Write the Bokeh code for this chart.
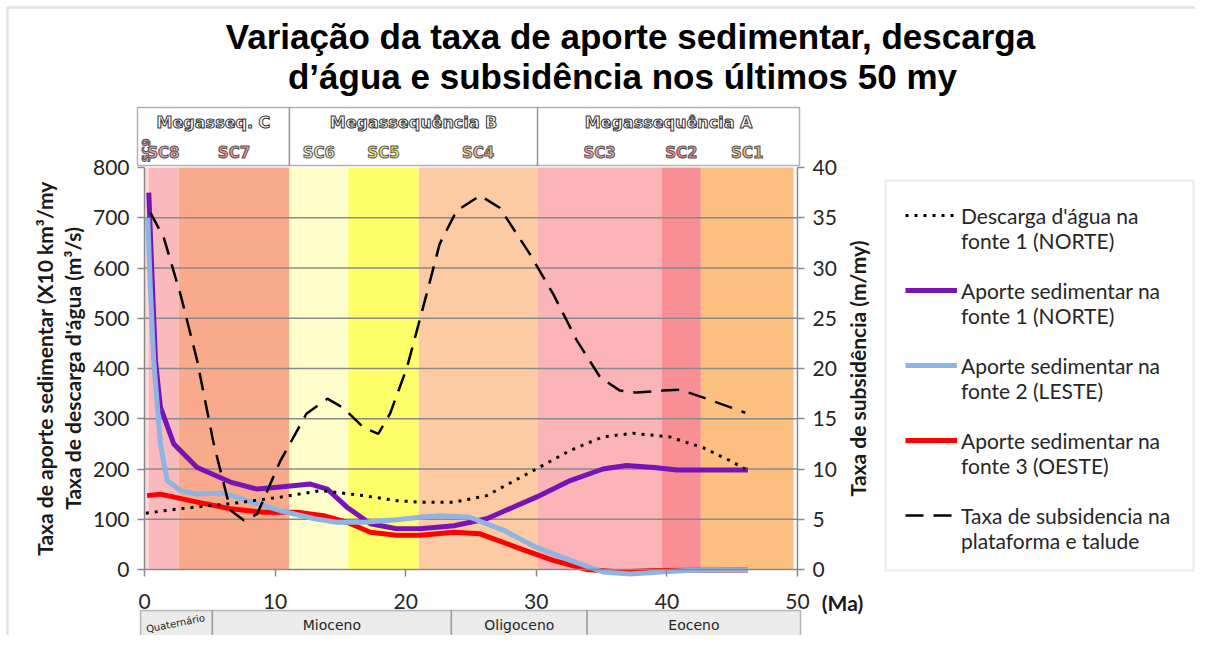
import math
from bokeh.plotting import figure
from bokeh.models import (Range1d, LinearAxis, FixedTicker, Label, BoxAnnotation,
                          Legend, LegendItem, ColumnDataSource)
from bokeh.embed import file_html
from bokeh.resources import INLINE

# ---------------- data ----------------
# sequences (SC) background bands, Ma
sc_names = ["SC9", "SC8", "SC7", "SC6", "SC5", "SC4", "SC3", "SC2", "SC1"]
sc_start = [0.0, 0.3, 2.6, 11.1, 15.6, 21.0, 30.1, 39.6, 42.6]
sc_end = [0.3, 2.6, 11.1, 15.6, 21.0, 30.1, 39.6, 42.6, 49.7]
sc_colors = ["#FCDADA", "#FAB9BC", "#F9AA8D", "#FFFDC9", "#FFFF6A", "#FCCBA3",
             "#FAB3B6", "#F88F94", "#FBC07F"]
sc_text_colors = ["#F2A0A8", "#F4A3AB", "#EA9682", "#F3F0BC", "#F0F05A", "#F2BD90",
                  "#F2A6AE", "#F0848C", "#F2BC7C"]

mega_names = ["Megasseq. C", "Megassequência B", "Megassequência A"]
mega_bounds = [0.0, 11.1, 30.1, 50.0]

epoch_names = ["Quaternário", "Mioceno", "Oligoceno", "Eoceno"]
epoch_bounds = [0.0, 5.2, 23.5, 33.9, 50.0]

# Descarga d'agua na fonte 1 (NORTE), m3/s
age_desc = [0.1, 2.7, 6.6, 10.4, 13.5, 16.8, 19.3, 21.1, 23.7, 26.2, 30.0, 32.6,
            35.1, 37.4, 40.2, 42.8, 44.8, 46.0]
descarga = [112, 121, 131, 144, 157, 147, 137, 134, 134, 147, 200, 237,
            264, 271, 264, 242, 217, 200]

# Aporte sedimentar fonte 1 (NORTE)
age_norte = [0.33, 0.55, 0.84, 1.22, 2.24, 4.03, 6.58, 8.62, 10.4, 12.7, 14.0, 15.5,
             17.3, 19.3, 21.1, 23.7, 26.2, 30.0, 32.6, 35.1, 36.9, 39.0, 40.8, 44.1, 46.2]
norte = [750, 600, 415, 323, 250, 203, 174, 160, 164, 170, 160, 124,
         91, 81, 81, 87, 101, 144, 177, 200, 207, 203, 198, 198, 198]

# Aporte sedimentar fonte 2 (LESTE)
age_leste = [0.25, 0.45, 0.71, 1.22, 1.73, 2.75, 4.03, 6.07, 7.86, 10.4, 13.0, 14.7,
             16.8, 19.3, 21.1, 22.6, 24.9, 27.5, 30.0, 32.6, 35.1, 37.2, 39.5, 41.5, 46.2]
leste = [700, 560, 415, 250, 177, 157, 150, 152, 137, 117, 101, 94,
         94, 99, 104, 107, 104, 78, 44, 18, -5, -9, -5, -2, -1]

# Aporte sedimentar fonte 3 (OESTE)
age_oeste = [0.2, 1.22, 4.03, 6.58, 9.13, 11.7, 13.7, 15.5, 17.3, 19.3, 21.1, 23.7,
             25.7, 28.8, 31.3, 33.9, 36.4, 39.0, 46.2]
oeste = [147, 150, 134, 121, 114, 114, 107, 94, 74, 68, 68, 74,
         71, 41, 18, 0, -5, -2, -1]

# Taxa de subsidencia (m/my), right axis
age_subs = [0.46, 1.48, 2.75, 4.03, 5.3, 6.58, 7.6, 8.62, 10.4, 12.4, 14.0, 15.2,
            16.8, 17.9, 18.8, 20.1, 21.6, 22.6, 23.9, 25.7, 27.2, 29.5, 31.3, 33.1,
            34.9, 36.4, 37.7, 39.7, 41.0, 42.8, 46.0]
subs = [35.5, 33.0, 27.4, 20.8, 12.5, 5.9, 4.9, 5.5, 10.8, 15.5, 17.0, 16.1,
        14.1, 13.5, 15.5, 20.1, 27.4, 32.4, 35.7, 37.2, 36.0, 31.4, 27.4, 22.8,
        19.1, 17.8, 17.6, 17.8, 17.9, 17.1, 15.6]

left_ticks = list(range(0, 801, 100))
right_ticks = list(range(0, 41, 5))
x_ticks = list(range(0, 51, 10))

legend_labels = ["Descarga d'água na\nfonte 1 (NORTE)",
                 "Aporte sedimentar na\nfonte 1 (NORTE)",
                 "Aporte sedimentar na\nfonte 2 (LESTE)",
                 "Aporte sedimentar na\nfonte 3 (OESTE)",
                 "Taxa de subsidencia na\nplataforma e talude"]

# ---------------- layout helpers ----------------
W, H = 1195, 635
FL, FR, FT, FB = 144, 797, 167, 569          # plot-area pixel box
XMAX, YMAX, RMAX = 50.0, 800.0, 40.0
KX = (FR - FL) / XMAX
KY = (FB - FT) / YMAX


def X(px):
    return (px - FL) / KX


def Y(py):
    return (FB - py) / KY


HAS_OUTLINE = "text_outline_color" in Label.properties()

p = figure(width=W, height=H, output_backend="svg", toolbar_location=None,
           x_range=Range1d(X(0), X(W)), y_range=Range1d(Y(H), Y(0)),
           min_border=0, x_axis_type=None, y_axis_type=None)
p.extra_y_ranges = {"subs": Range1d(Y(H) * RMAX / YMAX, Y(0) * RMAX / YMAX)}
p.outline_line_color = None
p.background_fill_color = "white"
p.border_fill_color = "white"
p.xgrid.visible = False
p.ygrid.visible = False

AX = "#8a8a8a"
TXT = "#262626"

# outer chart frame (left/top edges visible)
p.add_layout(BoxAnnotation(left=X(7), right=X(W + 50), top=Y(7), bottom=Y(H + 50),
                           fill_alpha=0, line_color="#9a9a9a", line_width=2.5))

# axes, fixed at the plot-area edges
xa = LinearAxis(ticker=FixedTicker(ticks=x_ticks), fixed_location=0, bounds=(0, XMAX))
ya = LinearAxis(ticker=FixedTicker(ticks=left_ticks), fixed_location=0, bounds=(0, YMAX))
ra = LinearAxis(y_range_name="subs", ticker=FixedTicker(ticks=right_ticks),
                fixed_location=XMAX, bounds=(0, RMAX))
p.add_layout(xa, "below")
p.add_layout(ya, "left")
p.add_layout(ra, "right")
for ax in (xa, ya, ra):
    ax.axis_line_color = AX
    ax.axis_line_width = 1.5
    ax.major_tick_line_color = AX
    ax.major_tick_line_width = 1.5
    ax.major_tick_out = 7
    ax.major_tick_in = 0
    ax.minor_tick_out = 0
    ax.minor_tick_in = 0
    ax.major_label_text_font = "Lato"
    ax.major_label_text_font_size = "21px"
    ax.major_label_text_color = TXT
xa.major_label_standoff = 17
ya.major_label_standoff = 8
ra.major_label_standoff = 8
ya.axis_label = "Taxa de aporte sedimentar (X10 km³/my\nTaxa de descarga d'água (m³/s)"
ya.axis_label_text_font = "Lato"
ya.axis_label_text_font_style = "bold"
ya.axis_label_text_font_size = "21px"
ya.axis_label_text_color = "#1a1a1a"
ya.axis_label_text_line_height = 1.1
ya.axis_label_standoff = 5

# background bands
bands = ColumnDataSource(dict(left=sc_start, right=sc_end, color=sc_colors))
p.quad(left="left", right="right", bottom=0, top=YMAX, fill_color="color",
       line_color=None, source=bands, level="image")

# horizontal gridlines at the left-axis ticks
grid_y = [t for t in left_ticks if 0 < t < YMAX]
p.segment(x0=0, y0=grid_y, x1=XMAX, y1=grid_y, line_color=AX, line_width=1.5,
          level="underlay")

# series
r_norte = p.line(age_norte, norte, line_color="#7614B6", line_width=5, line_join="round")
r_oeste = p.line(age_oeste, oeste, line_color="#FF0000", line_width=5, line_join="round")
r_leste = p.line(age_leste, leste, line_color="#8DB4E2", line_width=5, line_join="round")
r_desc = p.line(age_desc, descarga, line_color="black", line_width=3, line_dash="3 6")
r_subs = p.line(age_subs, subs, y_range_name="subs", line_color="black", line_width=2.5,
                line_dash="18 10")

# legend frame, then legend (labels carry a leading blank line so that the
# swatch sits level with the first text line, as in the original)
p.add_layout(BoxAnnotation(left=X(885), right=X(1193), top=Y(180), bottom=Y(570),
                           fill_color="white", fill_alpha=1,
                           line_color="#bdbdbd", line_width=2))
FS = 21
ROW = 75.0                     # measured height of one 3-line legend entry at 21px
renderers = [r_desc, r_norte, r_leste, r_oeste, r_subs]
items = [LegendItem(label="\n" + lab, renderers=[r]) for lab, r in zip(legend_labels, renderers)]
n = len(items)
first_line_center = 365 - (n - 1) / 2 * ROW     # entries centred on the legend box
legend_bottom = first_line_center - ROW / 2 + n * ROW
legend = Legend(items=items, location=(905, H - legend_bottom))
legend.label_text_font = "Lato"
legend.label_text_font_size = f"{FS}px"
legend.label_text_color = TXT
legend.glyph_width = 52
legend.glyph_height = 20
legend.label_standoff = 4
legend.spacing = 0
legend.padding = 0
legend.margin = 0
legend.border_line_color = None
legend.background_fill_alpha = 0
p.add_layout(legend, "center")

# ---------------- header boxes (mega-sequences) ----------------
pad_l, pad_r = X(137), X(799)
h_top, h_bot = Y(107), Y(165)
for i, name in enumerate(mega_names):
    l = mega_bounds[i] if i > 0 else pad_l
    r = mega_bounds[i + 1] if i < len(mega_names) - 1 else pad_r
    p.add_layout(BoxAnnotation(left=l, right=r, top=h_top, bottom=h_bot,
                               fill_color="white", fill_alpha=1,
                               line_color="black", line_width=1.5))
    kw = dict(x=(l + r) / 2, y=Y(122), text=name, text_align="center",
              text_baseline="middle", text_font="DejaVu Sans", text_font_style="bold",
              text_font_size="16px")
    if HAS_OUTLINE:
        p.add_layout(Label(text_color="white", text_outline_color="#333333", **kw))
    else:
        p.add_layout(Label(text_color="#3a3a3a", **kw))

for i, name in enumerate(sc_names):
    mid = (sc_start[i] + sc_end[i]) / 2
    if i == 0:
        kw = dict(x=X(146), y=Y(150), angle=math.pi / 2, text_font_size="11px")
    else:
        kw = dict(x=mid, y=Y(152), angle=0, text_font_size="15px")
    kw.update(text=name, text_align="center", text_baseline="middle",
              text_font="DejaVu Sans", text_font_style="bold")
    if HAS_OUTLINE:
        p.add_layout(Label(text_color=sc_text_colors[i], text_outline_color="#555555", **kw))
    else:
        p.add_layout(Label(text_color=sc_text_colors[i], **kw))

# ---------------- epoch boxes ----------------
e_top, e_bot = Y(610), Y(H + 40)
ep_l, ep_r = X(140), X(800)
for i, name in enumerate(epoch_names):
    l = epoch_bounds[i] if i > 0 else ep_l
    r = epoch_bounds[i + 1] if i < len(epoch_names) - 1 else ep_r
    p.add_layout(BoxAnnotation(left=l, right=r, top=e_top, bottom=e_bot,
                               fill_color="#EBEBEB", fill_alpha=1,
                               line_color="#262626", line_width=1.5))
    if i == 0:
        p.add_layout(Label(x=X(175), y=Y(623), text=name, angle=0.2, text_align="center",
                           text_baseline="middle", text_font="DejaVu Sans",
                           text_font_size="10px", text_color=TXT))
    else:
        p.add_layout(Label(x=(l + r) / 2, y=Y(624), text=name, text_align="center",
                           text_baseline="middle", text_font="DejaVu Sans",
                           text_font_size="14px", text_color=TXT))

# ---------------- titles and extra axis texts ----------------
p.add_layout(Label(x=X(630), y=Y(36), text="Variação da taxa de aporte sedimentar, descarga",
                   text_align="center", text_baseline="middle",
                   text_font="Liberation Sans", text_font_style="bold",
                   text_font_size="35px", text_color="black"))
p.add_layout(Label(x=X(622), y=Y(76), text="d’água e subsidência nos últimos 50 my",
                   text_align="center", text_baseline="middle",
                   text_font="Liberation Sans", text_font_style="bold",
                   text_font_size="35px", text_color="black"))
p.add_layout(Label(x=X(857), y=Y(368), text="Taxa de subsidência (m/my)", angle=math.pi / 2,
                   text_align="center", text_baseline="middle", text_font="Lato",
                   text_font_style="bold", text_font_size="21px", text_color="#1a1a1a"))
p.add_layout(Label(x=X(842), y=Y(602), text="(Ma)", text_align="center",
                   text_baseline="middle", text_font="Lato", text_font_style="bold",
                   text_font_size="21px", text_color="#1a1a1a"))

open("out.html", "w").write(file_html(p, INLINE))
